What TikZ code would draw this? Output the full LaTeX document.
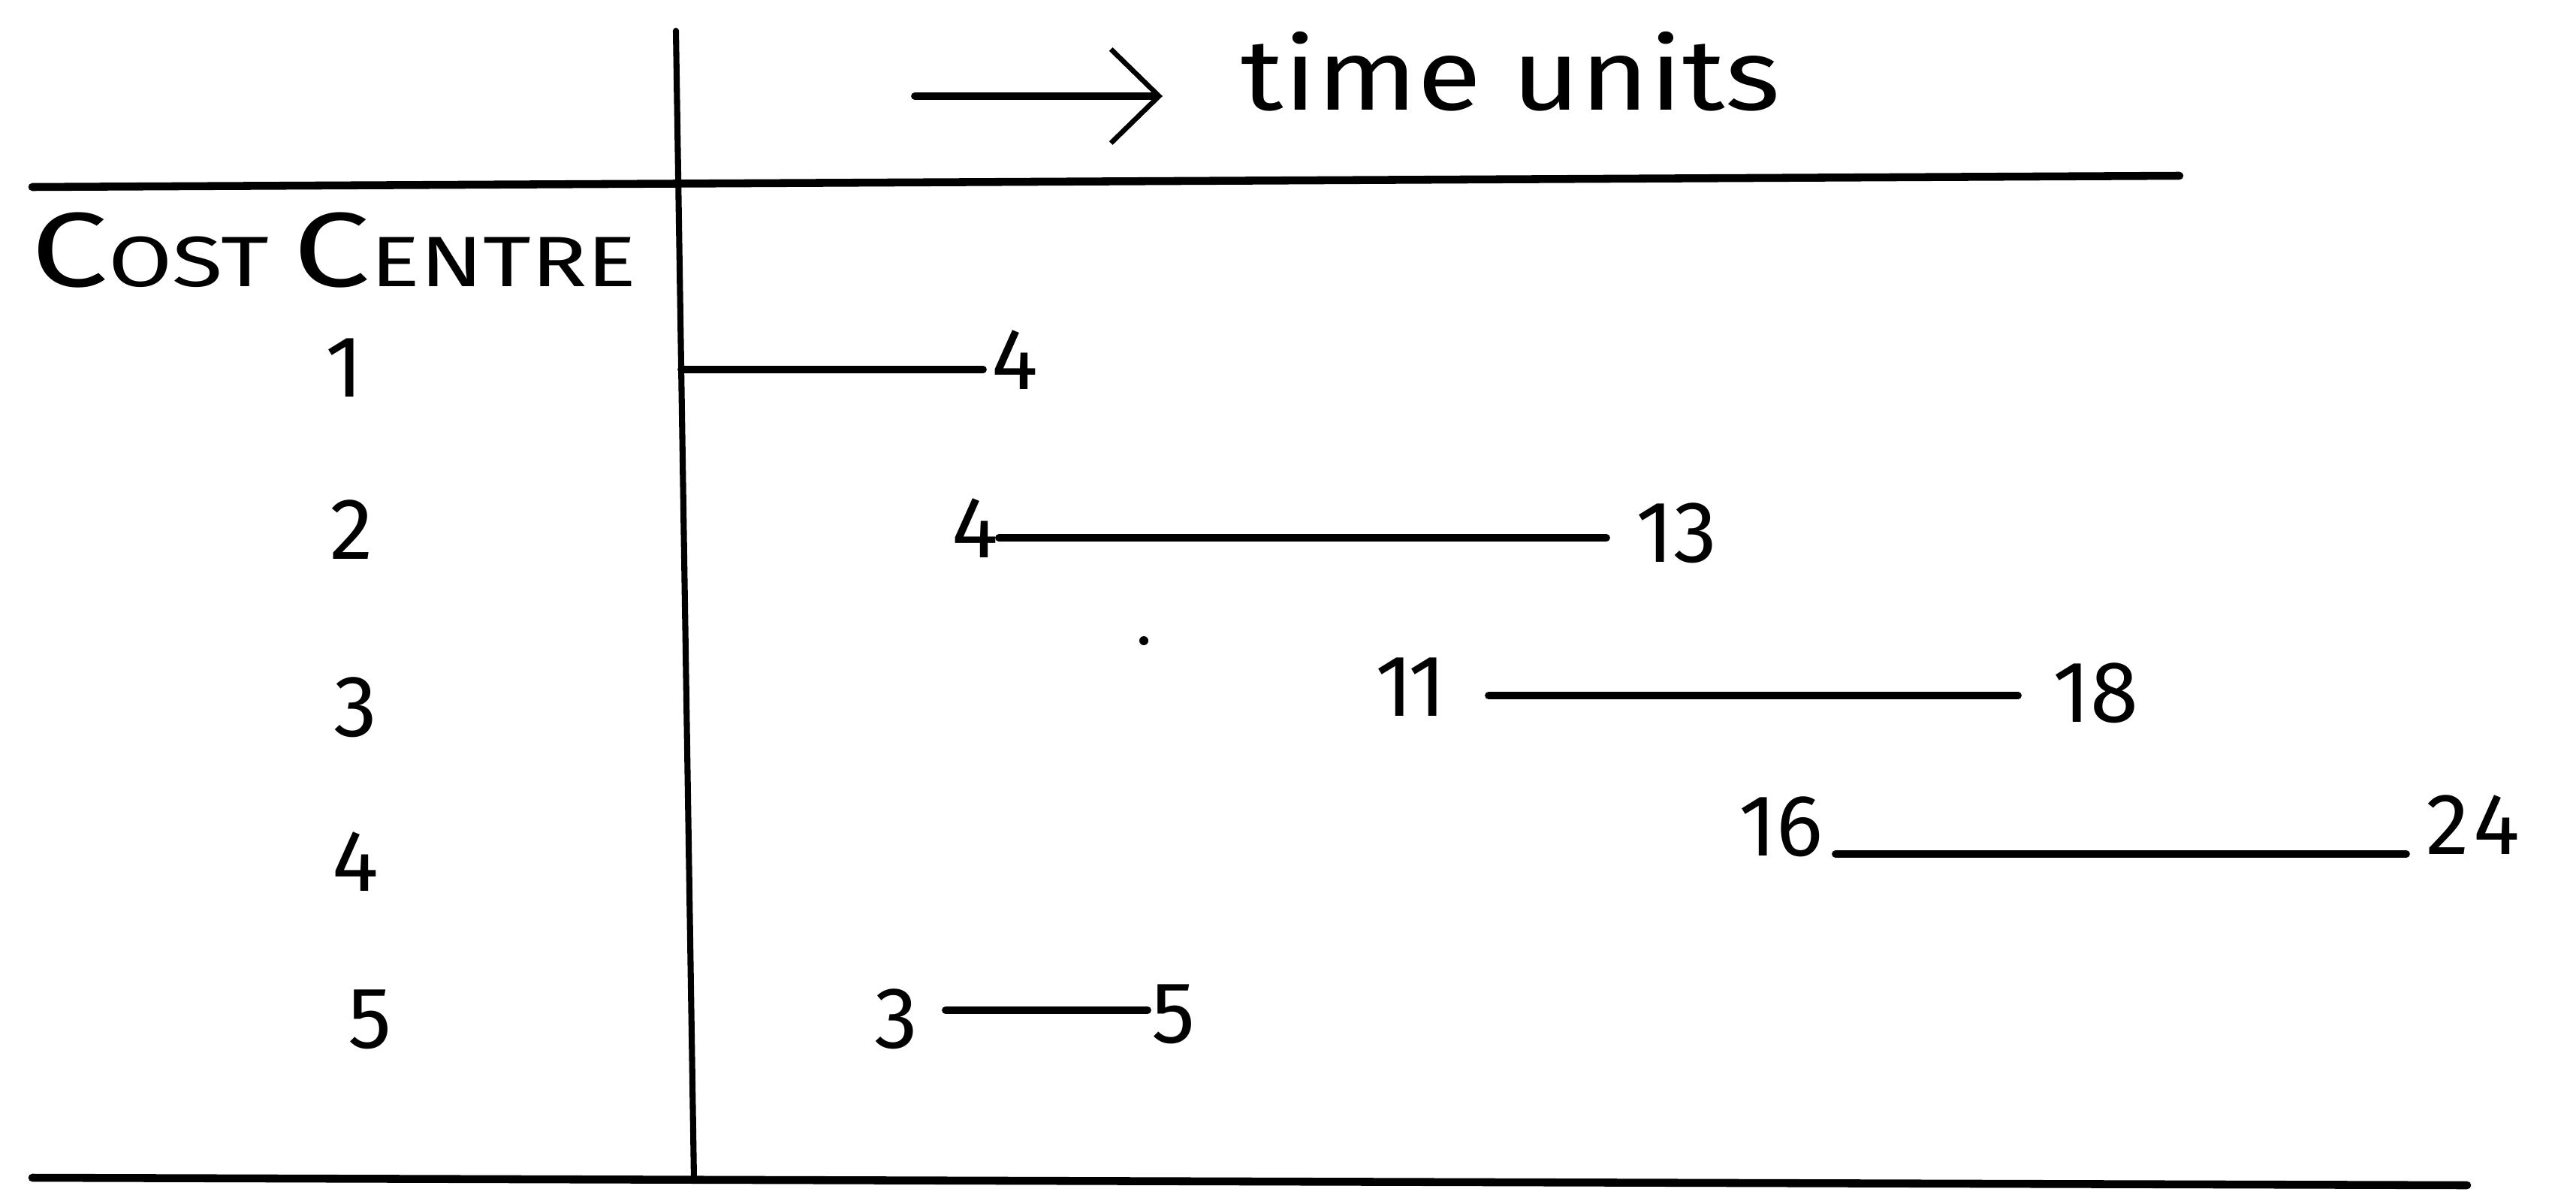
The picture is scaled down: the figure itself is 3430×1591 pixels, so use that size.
\documentclass[tikz,border=0pt]{standalone}
\usepackage{fontspec}
\setmainfont{Fira Sans}
\usetikzlibrary{arrows.meta}
\begin{document}
\begin{tikzpicture}[x=0.01cm,y=-0.01cm,
  rulebold/.style={line width=3pt, line cap=round},
  rulethin/.style={line width=2.3pt, line cap=round},
  bar/.style={line width=2.8pt, line cap=round},
  num/.style={inner sep=0pt, font=\fontsize{33}{36}\selectfont},
  lbl/.style={inner sep=0pt, font=\fontsize{33}{36}\selectfont}]
\useasboundingbox (0,0) rectangle (3430,1591);
\fill[white] (0,0) rectangle (3430,1591);

% frame lines
\coordinate (vtop) at (900,41);
\coordinate (vbot) at (924,1570);
\coordinate (tl) at (43,249);
\coordinate (tr) at (2902,234);
\coordinate (bl) at (43,1568);
\coordinate (br) at (3285,1578);
\draw[rulethin] (vtop) -- (vbot);
\draw[rulebold] (tl) -- (tr);
\draw[rulebold] (bl) -- (br);

% header
\coordinate (a0) at (1218,128);
\coordinate (a1) at (1548,128);
\draw[bar, -{Straight Barb[length=0.64cm, width=1.25cm, line width=1.9pt]}] (a0) -- (a1);
\node[anchor=base west, inner sep=0pt, font=\fontsize{38}{40}\selectfont] (tu) at (1652,147) {\scalebox{1.17}[1]{time units}};
\node[anchor=base west, inner sep=0pt] (cc) at (41,381) {\scalebox{1.3}[1]{\fontsize{40}{42}\selectfont C\fontsize{27}{30}\selectfont OST \fontsize{40}{42}\selectfont C\fontsize{27}{30}\selectfont ENTRE}};

% row labels
\node[lbl] (c1) at (459,490) {1};
\node[lbl] (c2) at (468,705) {2};
\node[lbl] (c3) at (473,942) {3};
\node[lbl] (c4) at (473,1147) {4};
\node[lbl] (c5) at (493,1357) {5};

% row y levels
\coordinate (y1) at (0,492);
\coordinate (y2) at (0,716);
\coordinate (y3) at (0,926);
\coordinate (y4) at (0,1137);
\coordinate (y5) at (0,1345);
\coordinate (v1) at (907,492);

% row 1
\node[num, anchor=west] (r1b) at (1320,479) {4};
\draw[bar, shorten >=0.11cm] (v1) -- (r1b.west |- y1);
% row 2
\node[num, anchor=east] (r2a) at (1330,703) {4};
\node[num, anchor=west] (r2b) at (2178,710) {13};
\draw[bar, shorten >=0.39cm] (r2a.east |- y2) -- (r2b.west |- y2);
% row 3
\node[num, anchor=east] (r3a) at (1926,915) {1\kern-0.06em 1};
\node[num, anchor=west] (r3b) at (2733,923) {18};
\draw[bar, shorten <=0.56cm, shorten >=0.46cm] (r3a.east |- y3) -- (r3b.west |- y3);
% row 4
\node[num, anchor=east] (r4a) at (2428,1101) {16};
\node[num, anchor=west] (r4b) at (3230,1098) {2\kern0.05em 4};
\draw[bar, shorten <=0.16cm, shorten >=0.26cm] (r4a.east |- y4) -- (r4b.west |- y4);
% row 5
\node[num, anchor=east] (r5a) at (1223,1357) {3};
\node[num, anchor=west] (r5b) at (1533,1350) {5};
\draw[bar, shorten <=0.36cm, shorten >=0.05cm] (r5a.east |- y5) -- (r5b.west |- y5);

% stray dot
\fill (1523,853) circle (6);
\end{tikzpicture}
\end{document}
